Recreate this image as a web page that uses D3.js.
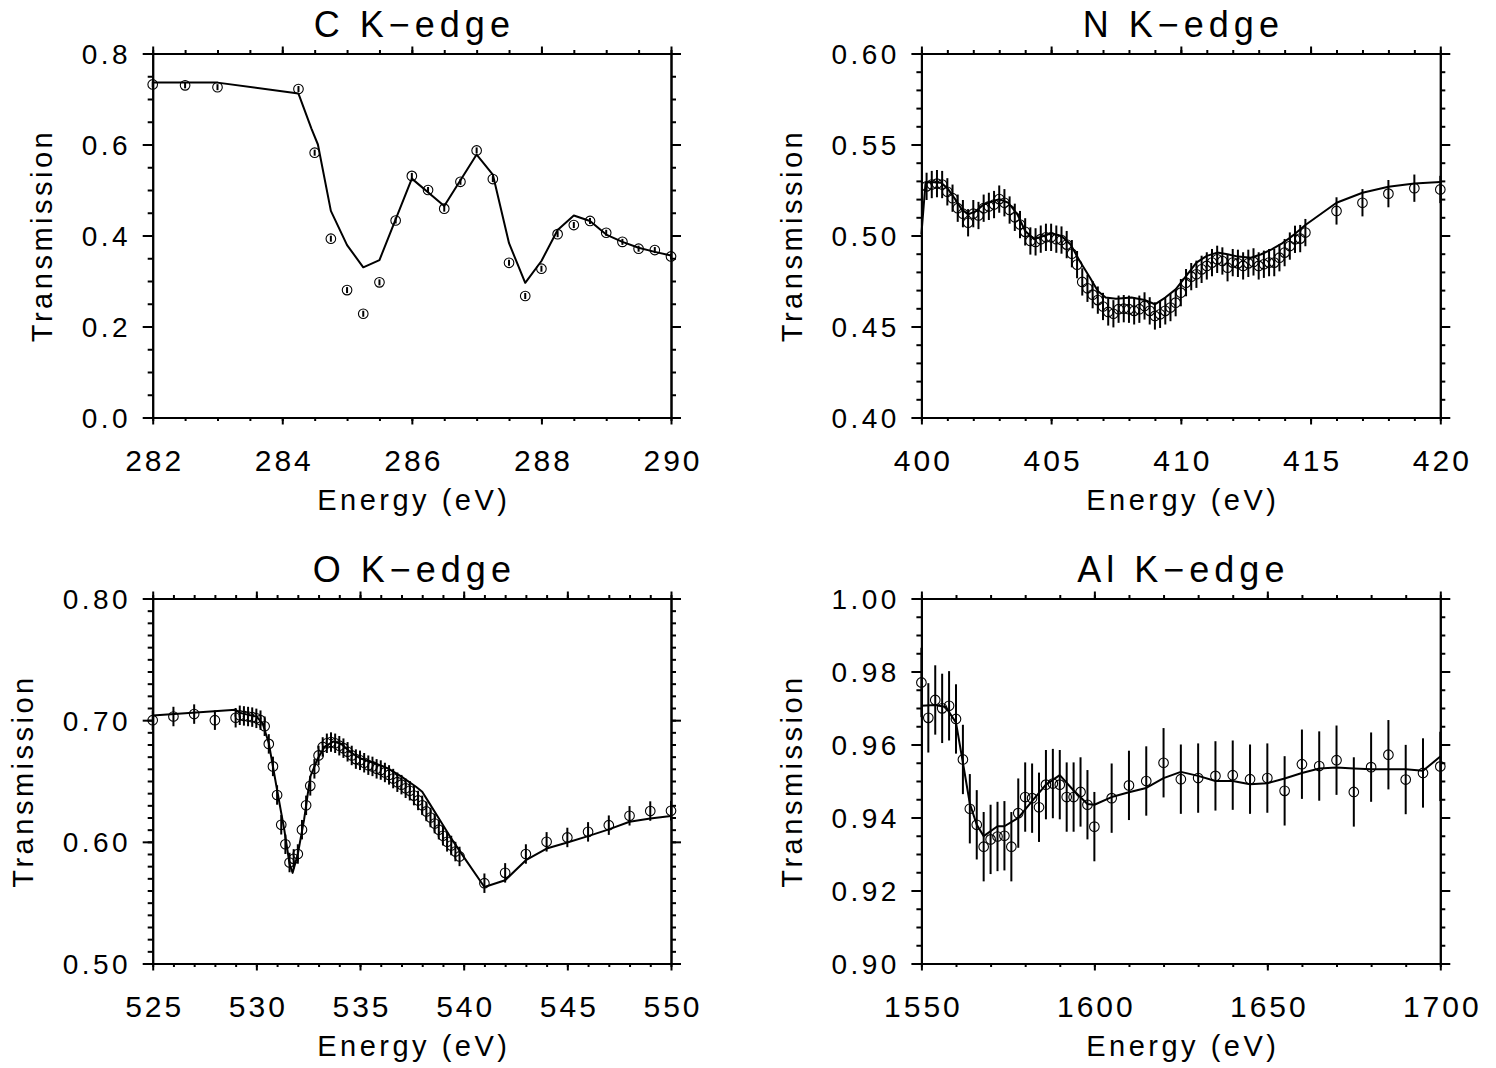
<!DOCTYPE html>
<html>
<head>
<meta charset="utf-8">
<script src="https://cdn.jsdelivr.net/npm/d3@7"></script>
<style>
body { margin: 0; background: #fff; }
svg text { font-family: "Liberation Sans", Arial, sans-serif; fill: #000; }
</style>
</head>
<body>
<svg id="chart" width="1496" height="1068"></svg>
<script>
// ---- C K-edge ----
const cEnergy = [282, 282.5, 283, 284.25, 284.5, 284.75, 285, 285.25, 285.5, 285.75, 286, 286.25, 286.5, 286.75,
    287, 287.25, 287.5, 287.75, 288, 288.25, 288.5, 288.75, 289, 289.25, 289.5, 289.75, 290];
const cTrans = [0.732, 0.730, 0.726, 0.722, 0.582, 0.393, 0.280, 0.228, 0.297, 0.433, 0.531, 0.500, 0.459, 0.518,
    0.587, 0.524, 0.340, 0.267, 0.327, 0.403, 0.423, 0.432, 0.406, 0.386, 0.371, 0.368, 0.354];
const cErr = 0.0066;
const cModelEnergy = [282, 283, 284.25, 284.45, 284.55, 284.75, 285, 285.25, 285.5, 286, 286.5, 287, 287.25, 287.5,
    287.75, 288, 288.25, 288.5, 288.75, 289, 289.25, 289.5, 289.75, 290];
const cModelTrans = [0.736, 0.736, 0.712, 0.635, 0.600, 0.454, 0.379, 0.330, 0.346, 0.525, 0.465, 0.578, 0.534, 0.383,
    0.296, 0.344, 0.412, 0.444, 0.432, 0.402, 0.386, 0.373, 0.364, 0.356];

// ---- N K-edge ----
const nEnergy = [400.2, 400.4, 400.6, 400.8, 401.0, 401.2, 401.4, 401.6, 401.8, 402.0, 402.2, 402.4, 402.6, 402.8,
    403.0, 403.2, 403.4, 403.6, 403.8, 404.0, 404.2, 404.4, 404.6, 404.8, 405.0, 405.2, 405.4, 405.6, 405.8,
    406.0, 406.2, 406.4, 406.6, 406.8, 407.0, 407.2, 407.4, 407.6, 407.8, 408.0, 408.2, 408.4, 408.6, 408.8,
    409.0, 409.2, 409.4, 409.6, 409.8, 410.0, 410.2, 410.4, 410.6, 410.8, 411.0, 411.2, 411.4, 411.6, 411.8,
    412.0, 412.2, 412.4, 412.6, 412.8, 413.0, 413.2, 413.4, 413.6, 413.8, 414.0, 414.2, 414.4, 414.6, 414.8,
    416, 417, 418, 419, 420];
const nTrans = [0.527, 0.528, 0.5285, 0.528, 0.524, 0.5205, 0.515, 0.512, 0.507, 0.512, 0.511, 0.515, 0.516, 0.517,
    0.520, 0.518, 0.514, 0.510, 0.506, 0.502, 0.497, 0.4965, 0.498, 0.499, 0.499, 0.498, 0.4975, 0.495, 0.490,
    0.484, 0.4745, 0.471, 0.4675, 0.4645, 0.461, 0.458, 0.457, 0.4595, 0.4598, 0.4595, 0.4586, 0.4595, 0.4613, 0.4586,
    0.4558, 0.4567, 0.4586, 0.4604, 0.4631, 0.4686, 0.4741, 0.4774, 0.4787, 0.4814, 0.4833, 0.4851, 0.4869, 0.486, 0.4823,
    0.4851, 0.4847, 0.4833, 0.4847, 0.4855, 0.4833, 0.4842, 0.4851, 0.4851, 0.4878, 0.4906, 0.4942, 0.4979, 0.4983, 0.5016,
    0.5135, 0.518, 0.523, 0.526, 0.5253];
const nErr = 0.0075;
const nModelEnergy = [400.0, 400.16, 400.36, 400.76, 401.0, 401.3, 401.55, 401.8, 402.1, 402.4, 403.0, 403.35, 403.7,
    404.0, 404.35, 404.7, 405.0, 405.4, 405.75, 406.1, 406.5, 406.8, 407.1, 407.5, 408.1, 408.6, 409.0, 409.4, 409.8,
    410.2, 410.6, 411.0, 411.4, 411.8, 412.2, 412.7, 413.1, 413.5, 413.9, 414.3, 414.8, 416, 417, 418, 419, 420];
const nModelTrans = [0.5006, 0.529, 0.5294, 0.529, 0.526, 0.520, 0.5144, 0.5116, 0.5134, 0.517, 0.520, 0.518, 0.5116,
    0.5025, 0.498, 0.4997, 0.5012, 0.4997, 0.4951, 0.486, 0.4768, 0.4695, 0.4659, 0.4653, 0.4659, 0.4646, 0.4622, 0.4659, 0.4704,
    0.4777, 0.4851, 0.4888, 0.4906, 0.4897, 0.4884, 0.4878, 0.4897, 0.4924, 0.4957, 0.4997, 0.5058, 0.518, 0.5235, 0.5268, 0.5286, 0.5294];

// ---- O K-edge ----
const oEnergy = [525, 526, 527, 528, 529,
    529.2, 529.4, 529.6, 529.8, 530.0, 530.2, 530.4, 530.6, 530.8, 531.0, 531.2, 531.4, 531.6, 531.8,
    532.0, 532.2, 532.4, 532.6, 532.8, 533.0, 533.2, 533.4, 533.6, 533.8, 534.0, 534.2, 534.4, 534.6, 534.8,
    535.0, 535.2, 535.4, 535.6, 535.8, 536.0, 536.2, 536.4, 536.6, 536.8, 537.0, 537.2, 537.4, 537.6, 537.8,
    538.0, 538.2, 538.4, 538.6, 538.8, 539.0, 539.2, 539.4, 539.6, 539.8,
    541, 542, 543, 544, 545, 546, 547, 548, 549, 550];
const oTrans = [0.700, 0.703, 0.705, 0.700, 0.702,
    0.704, 0.7035, 0.703, 0.7025, 0.7015, 0.700, 0.695, 0.6805, 0.662, 0.6385, 0.614, 0.598, 0.583, 0.586,
    0.590, 0.610, 0.630, 0.646, 0.660, 0.671, 0.678, 0.681, 0.682, 0.681, 0.679, 0.677, 0.674, 0.671, 0.668,
    0.667, 0.665, 0.663, 0.662, 0.660, 0.659, 0.657, 0.655, 0.652, 0.649, 0.647, 0.644, 0.642, 0.638, 0.634,
    0.630, 0.625, 0.620, 0.615, 0.610, 0.605, 0.600, 0.597, 0.592, 0.588,
    0.566, 0.5745, 0.590, 0.600, 0.6036, 0.6082, 0.6137, 0.6214, 0.6253, 0.6255];
const oErr = 0.008;
const oModelEnergy = [525, 529, 529.2, 530.0, 530.3, 530.6, 531.0, 531.35, 531.6, 531.75, 532.0, 532.3, 532.6, 532.95,
    533.3, 533.7, 534.1, 534.5, 535.0, 535.7, 536.35, 537.0, 537.7, 538.0, 538.35, 538.85, 539.35, 540.0, 541,
    542, 543, 544, 545, 546, 547, 548, 549, 550];
const oModelTrans = [0.7038, 0.7085, 0.706, 0.703, 0.6975, 0.681, 0.6426, 0.6096, 0.582, 0.5745, 0.590, 0.618, 0.6536, 0.668,
    0.6783, 0.6824, 0.6805, 0.6742, 0.6687, 0.6646, 0.6604, 0.6536, 0.6453, 0.6412, 0.6316, 0.6179, 0.6041, 0.5876, 0.5629,
    0.5684, 0.5849, 0.5945, 0.5995, 0.6047, 0.6102, 0.6165, 0.6192, 0.6212];

// ---- Al K-edge ----
const alEnergy = [1550, 1552, 1554, 1556, 1558, 1560, 1562, 1564, 1566, 1568, 1570, 1572, 1574, 1576, 1578, 1580,
    1582, 1584, 1586, 1588, 1590, 1592, 1594, 1596, 1598, 1600, 1605, 1610, 1615, 1620, 1625, 1630, 1635, 1640,
    1645, 1650, 1655, 1660, 1665, 1670, 1675, 1680, 1685, 1690, 1695, 1700];
const alTrans = [0.977, 0.9673, 0.9722, 0.9699, 0.9706, 0.967, 0.9559, 0.9424, 0.938, 0.932, 0.934, 0.9348, 0.935, 0.932,
    0.9412, 0.9456, 0.9453, 0.9428, 0.949, 0.9493, 0.949, 0.9456, 0.9456, 0.947, 0.9435, 0.9375, 0.9453, 0.9488, 0.950,
    0.955, 0.9505, 0.9508, 0.9514, 0.9516, 0.9505, 0.9508, 0.9473, 0.9546, 0.9541, 0.9557, 0.947, 0.9538, 0.9572, 0.9504,
    0.9522, 0.954];
const alErr = 0.0095;
const alModelEnergy = [1550, 1554, 1557, 1560, 1562, 1564, 1566, 1568, 1572, 1574, 1578, 1582, 1586, 1590, 1594, 1598,
    1600, 1605, 1610, 1615, 1620, 1625, 1630, 1635, 1640, 1645, 1650, 1655, 1660, 1665, 1670, 1675, 1680, 1685, 1690,
    1695, 1700];
const alModelTrans = [0.9706, 0.9708, 0.9703, 0.966, 0.955, 0.9438, 0.938, 0.9349, 0.9376, 0.9376, 0.9399, 0.9445, 0.949,
    0.9516, 0.9474, 0.9437, 0.9435, 0.9456, 0.9469, 0.9481, 0.9508, 0.9525, 0.9514, 0.950, 0.950, 0.9491, 0.9494, 0.9507,
    0.9522, 0.9534, 0.9537, 0.9534, 0.9532, 0.9532, 0.9532, 0.9528, 0.9567];

// tick labels
const cXTicks = [282, 284, 286, 288, 290];
const cYTicks = ['0.0', '0.2', '0.4', '0.6', '0.8'];
const nXTicks = [400, 405, 410, 415, 420];
const nYTicks = ['0.40', '0.45', '0.50', '0.55', '0.60'];
const oXTicks = [525, 530, 535, 540, 545, 550];
const oYTicks = ['0.50', '0.60', '0.70', '0.80'];
const alXTicks = [1550, 1600, 1650, 1700];
const alYTicks = ['0.90', '0.92', '0.94', '0.96', '0.98', '1.00'];

const titles = ['C K\u2212edge', 'N K\u2212edge', 'O K\u2212edge', 'Al K\u2212edge'];

const svg = d3.select('#chart');

const panels = [
    { title: titles[0], x: cEnergy, y: cTrans, err: cErr, mx: cModelEnergy, my: cModelTrans,
      xDomain: [282, 290], yDomain: [0, 0.8], xTicks: cXTicks, yTicks: cYTicks, xMinor: 0.5, yMinor: 0.05,
      box: { left: 152.7, right: 671, top: 53.5, bottom: 417.5 } },
    { title: titles[1], x: nEnergy, y: nTrans, err: nErr, mx: nModelEnergy, my: nModelTrans,
      xDomain: [400, 420], yDomain: [0.4, 0.6], xTicks: nXTicks, yTicks: nYTicks, xMinor: 1, yMinor: 0.01,
      box: { left: 921.4, right: 1440.3, top: 53.5, bottom: 417.5 } },
    { title: titles[2], x: oEnergy, y: oTrans, err: oErr, mx: oModelEnergy, my: oModelTrans,
      xDomain: [525, 550], yDomain: [0.5, 0.8], xTicks: oXTicks, yTicks: oYTicks, xMinor: 1, yMinor: 0.01,
      box: { left: 152.7, right: 671, top: 598.5, bottom: 963.5 } },
    { title: titles[3], x: alEnergy, y: alTrans, err: alErr, mx: alModelEnergy, my: alModelTrans,
      xDomain: [1550, 1700], yDomain: [0.9, 1.0], xTicks: alXTicks, yTicks: alYTicks, xMinor: 10, yMinor: 0.005,
      box: { left: 921.4, right: 1440.3, top: 598.5, bottom: 963.5 } }
];

function minorValues(domain, step) {
    const n = Math.round((domain[1] - domain[0]) / step);
    return d3.range(n + 1).map(i => +(domain[0] + i * step).toFixed(6));
}

function styleAxis(sel) {
    sel.select('.domain').attr('stroke', '#000').attr('stroke-width', 2);
    sel.selectAll('.tick line').attr('stroke', '#000').attr('stroke-width', 2);
}

for (const p of panels) {
    const b = p.box;
    const x = d3.scaleLinear().domain(p.xDomain).range([b.left, b.right]);
    const y = d3.scaleLinear().domain(p.yDomain).range([b.bottom, b.top]);
    const g = svg.append('g');

    const xMin = minorValues(p.xDomain, p.xMinor);
    const yMin = minorValues(p.yDomain, p.yMinor);
    const xMaj = p.xTicks;
    const yMaj = p.yTicks.map(Number);

    // minor ticks, all four sides
    g.append('g').attr('transform', `translate(0,${b.bottom})`)
        .call(d3.axisBottom(x).tickValues(xMin).tickSize(3.5).tickSizeOuter(0).tickFormat(''))
        .call(styleAxis);
    g.append('g').attr('transform', `translate(0,${b.top})`)
        .call(d3.axisTop(x).tickValues(xMin).tickSize(3.5).tickSizeOuter(0).tickFormat(''))
        .call(styleAxis);
    g.append('g').attr('transform', `translate(${b.left},0)`)
        .call(d3.axisLeft(y).tickValues(yMin).tickSize(5).tickSizeOuter(0).tickFormat(''))
        .call(styleAxis);
    g.append('g').attr('transform', `translate(${b.right},0)`)
        .call(d3.axisRight(y).tickValues(yMin).tickSize(5).tickSizeOuter(0).tickFormat(''))
        .call(styleAxis);

    // major ticks
    const xb = g.append('g').attr('transform', `translate(0,${b.bottom})`)
        .call(d3.axisBottom(x).tickValues(xMaj).tickSize(7).tickSizeOuter(0).tickPadding(25).tickFormat(d => String(d)))
        .call(styleAxis);
    g.append('g').attr('transform', `translate(0,${b.top})`)
        .call(d3.axisTop(x).tickValues(xMaj).tickSize(7).tickSizeOuter(0).tickFormat(''))
        .call(styleAxis);
    const yl = g.append('g').attr('transform', `translate(${b.left},0)`)
        .call(d3.axisLeft(y).tickValues(yMaj).tickSize(10).tickSizeOuter(0).tickPadding(15)
            .tickFormat((d, i) => p.yTicks[i]))
        .call(styleAxis);
    g.append('g').attr('transform', `translate(${b.right},0)`)
        .call(d3.axisRight(y).tickValues(yMaj).tickSize(10).tickSizeOuter(0).tickFormat(''))
        .call(styleAxis);

    xb.selectAll('.tick text').attr('font-size', 30).attr('letter-spacing', 3).attr('dx', 1.5)
        .attr('font-family', null);
    yl.selectAll('.tick text').attr('font-size', 28).attr('letter-spacing', 3.5).attr('dx', 3.5)
        .attr('dy', '0.36em').attr('font-family', null);

    // model line
    const modelPts = p.mx.map((e, i) => [e, p.my[i]]);
    g.append('path')
        .datum(modelPts)
        .attr('fill', 'none')
        .attr('stroke', '#000')
        .attr('stroke-width', 2)
        .attr('stroke-linejoin', 'round')
        .attr('d', d3.line().x(d => x(d[0])).y(d => y(d[1])));

    // data with error bars
    const pts = p.x.map((e, i) => ({ e: e, t: p.y[i] }));
    g.append('g').selectAll('line').data(pts).join('line')
        .attr('x1', d => x(d.e)).attr('x2', d => x(d.e))
        .attr('y1', d => y(d.t - p.err)).attr('y2', d => y(d.t + p.err))
        .attr('stroke', '#000').attr('stroke-width', 2);
    g.append('g').selectAll('circle').data(pts).join('circle')
        .attr('cx', d => x(d.e)).attr('cy', d => y(d.t)).attr('r', 4.8)
        .attr('fill', 'none').attr('stroke', '#000').attr('stroke-width', 1.1);

    // titles
    g.append('text')
        .attr('x', (b.left + b.right) / 2 + 2.5).attr('y', b.top - 16.5)
        .attr('text-anchor', 'middle').attr('font-size', 36).attr('letter-spacing', 5)
        .text(p.title);
    g.append('text')
        .attr('x', (b.left + b.right) / 2 + 2).attr('y', b.bottom + 92)
        .attr('text-anchor', 'middle').attr('font-size', 29).attr('letter-spacing', 3.5)
        .text('Energy (eV)');

    let labelLeft = b.left;
    yl.selectAll('.tick text').each(function () {
        const bb = this.getBBox();
        labelLeft = Math.min(labelLeft, b.left - 25 - bb.width);
    });
    g.append('text')
        .attr('transform', `translate(${labelLeft - 26},${(b.top + b.bottom) / 2}) rotate(-90)`)
        .attr('text-anchor', 'middle').attr('font-size', 29).attr('letter-spacing', 3.5)
        .text('Transmission');
}
</script>
</body>
</html>
